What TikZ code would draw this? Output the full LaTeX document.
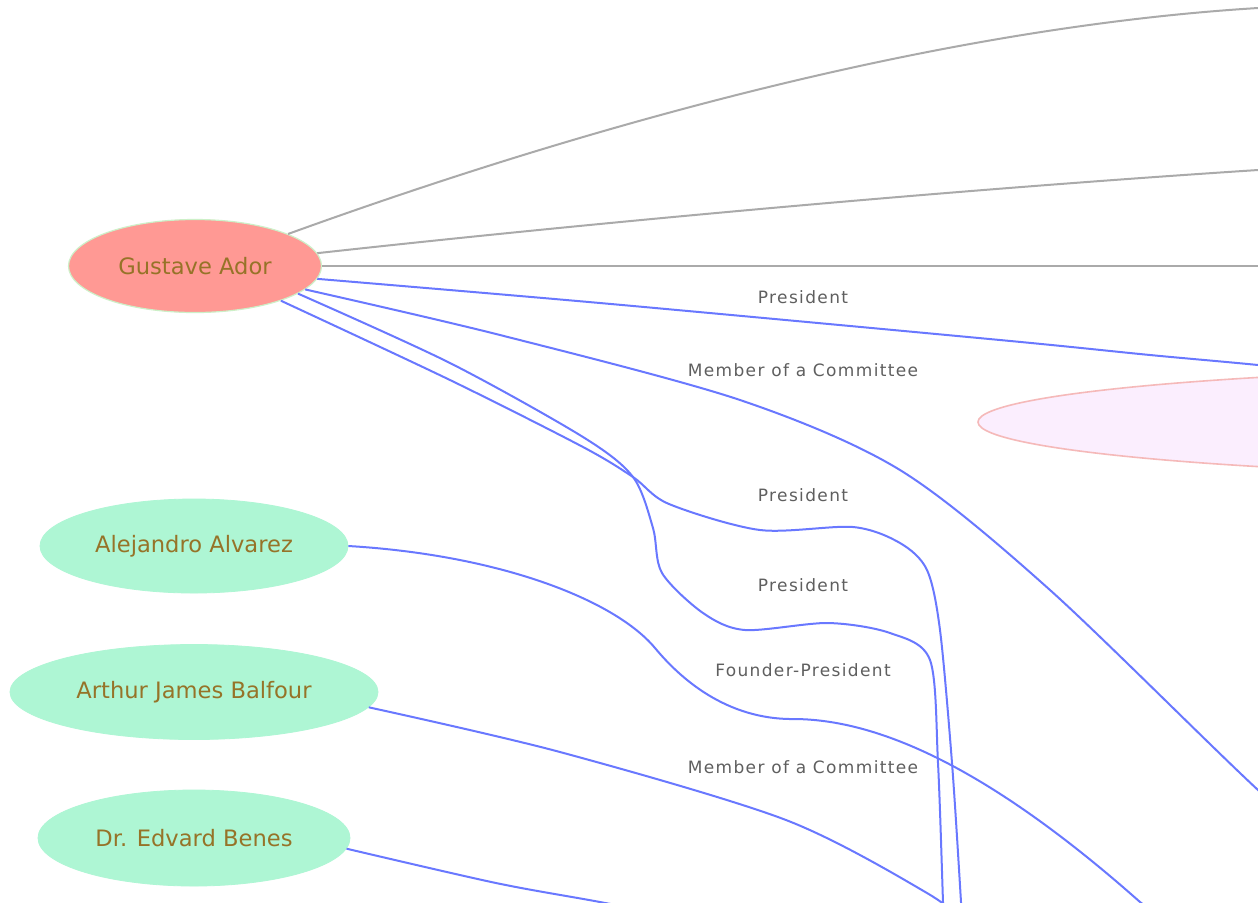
\documentclass[tikz,border=0pt]{standalone}
\usepackage{fontspec}
\usetikzlibrary{shapes.geometric}
\newfontfamily\nodefont{DejaVu Sans}
\newfontfamily\lblfont[LetterSpace=8]{DejaVu Sans}
\definecolor{adorfill}{RGB}{255,153,148}
\definecolor{adorborder}{RGB}{205,240,200}
\definecolor{greenfill}{RGB}{174,246,212}
\definecolor{pinkfill}{RGB}{251,238,254}
\definecolor{pinkborder}{RGB}{245,185,185}
\definecolor{nodetext}{RGB}{150,115,40}
\definecolor{labeltext}{RGB}{95,95,95}
\definecolor{grayedge}{RGB}{170,170,170}
\definecolor{blueedge}{RGB}{105,120,255}
\begin{document}
\begin{tikzpicture}[x=0.5pt,y=-0.5pt,
  person/.style={ellipse, inner sep=0pt, text=nodetext,
    font=\nodefont\fontsize{11.3}{13}\selectfont},
  chosen/.style={person, fill=adorfill, draw=adorborder, line width=0.6pt},
  other/.style={person, fill=greenfill, draw=greenfill, line width=0.4pt},
  org/.style={ellipse, inner sep=0pt, fill=pinkfill, draw=pinkborder, line width=0.8pt},
  elabel/.style={text=labeltext, font=\lblfont\fontsize{8.5}{10}\selectfont, inner sep=1pt},
  grayline/.style={draw=grayedge, line width=1pt},
  blueline/.style={draw=blueedge, line width=1pt},
  smoothpath/.style={smooth, tension=0.5}]
\useasboundingbox (0,0) rectangle (1258,902);
\fill[white] (0,0) rectangle (1258,902);
\clip (0,0) rectangle (1258,902);

% nodes
\node[chosen, minimum width=126.5pt, minimum height=46.5pt] (ador) at (195,266) {Gustave Ador};
\node[other, minimum width=154pt, minimum height=47pt] (alvarez) at (194,546) {Alejandro Alvarez};
\node[other, minimum width=184pt, minimum height=47.5pt] (balfour) at (194,692) {Arthur James Balfour};
\node[other, minimum width=156pt, minimum height=48pt] (benes) at (194,838) {Dr. Edvard Benes};
\node[org, minimum width=676pt, minimum height=55pt] (org1) at (1654,422) {};

% off-canvas targets
\coordinate (t1) at (1400,0);
\coordinate (t2) at (1400,159);
\coordinate (t3) at (1400,266);
\coordinate (t4) at (1400,380);
\coordinate (t5) at (1400,915);
\coordinate (t6) at (964,960);
\coordinate (t7) at (945,960);
\coordinate (t8) at (1210,955);
\coordinate (t9) at (975,930);
\coordinate (t10) at (720,925);

% gray edges
\draw[grayline] (ador.19) .. controls (520,150) and (900,30) .. (1258,8) -- (t1);
\draw[grayline] (ador.6) .. controls (600,222) and (950,190) .. (1258,170) -- (t2);
\draw[grayline] (ador.0) -- (t3);

% blue edges
\draw[blueline] plot[smoothpath] coordinates {(ador.-6) (600,303) (1000,340) (1150,355) (1258,365) (t4)};
\draw[blueline] plot[smoothpath] coordinates {(ador.-12) (500,335) (740,400) (900,470) (1050,590) (1258,790) (t5)};
\draw[blueline] plot[smoothpath] coordinates {(ador.-22) (450,380) (583,447) (633,477) (669,504) (760,530) (853,527) (900,543) (927,570) (940,630) (952,763) (961,902) (t6)};
\draw[blueline] plot[smoothpath] coordinates {(ador.-15) (450,363) (583,437) (633,477) (653,528) (662,573) (703,613) (745,630) (828,623) (890,633) (930,660) (938,763) (943,902) (t7)};
\draw[blueline] (alvarez.east) .. controls (500,555) and (615,600) .. (655,648)
  .. controls (675,672) and (720,718) .. (790,719)
  .. controls (870,718) and (980,760) .. (1140,902) -- (t8);
\draw[blueline] plot[smoothpath] coordinates {(balfour.-5) (560,752) (786,820) (927,893) (t9)};
\draw[blueline] plot[smoothpath] coordinates {(benes.-4) (496,883) (600,902) (t10)};

% labels
\node[elabel] (l1) at (803,297) {President};
\node[elabel] (l2) at (803,370) {Member of a Committee};
\node[elabel] (l3) at (803,495) {President};
\node[elabel] (l4) at (803,585) {President};
\node[elabel] (l5) at (803,670) {Founder-President};
\node[elabel] (l6) at (803,767) {Member of a Committee};
\end{tikzpicture}
\end{document}
